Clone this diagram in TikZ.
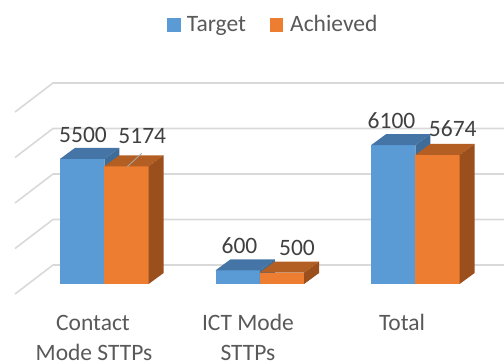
\documentclass[tikz,border=0pt]{standalone}
\usepackage{fontspec}
\setmainfont{Carlito}
\definecolor{bfront}{HTML}{5B9BD5}
\definecolor{btop}{HTML}{4575A6}
\definecolor{bside}{HTML}{3F6C98}
\definecolor{ofront}{HTML}{ED7D31}
\definecolor{otop}{HTML}{B35E22}
\definecolor{oside}{HTML}{9A4F1D}
\definecolor{gridc}{HTML}{D9D9D9}
\definecolor{valc}{HTML}{404040}
\definecolor{catc}{HTML}{595959}
\newcommand\barbox[5]{%
  \fill[#3] (#1,284) rectangle ({#1+44.3},{284-#2});
  \fill[#4] (#1,{284-#2}) -- ({#1+44.3},{284-#2}) -- ({#1+59.3},{273-#2}) -- ({#1+15},{273-#2}) -- cycle;
  \fill[#5] ({#1+44.3},284) -- ({#1+44.3},{284-#2}) -- ({#1+59.3},{273-#2}) -- ({#1+59.3},273) -- cycle;
}
\begin{document}
\begin{tikzpicture}[x=1pt,y=-1pt,
  gridline/.style={draw=gridc,line width=1.6pt},
  vallabel/.style={text=valc,inner sep=0pt,anchor=base,font=\fontsize{23.5}{28}\selectfont},
  catlabel/.style={text=catc,inner sep=0pt,anchor=base,font=\fontsize{23.5}{28}\selectfont},
  legtext/.style={text=catc,inner sep=0pt,anchor=base west,font=\fontsize{23.5}{28}\selectfont},
  leader/.style={draw=black!35,line width=0.9pt}]
\useasboundingbox (0,0) rectangle (504,360);
% grid
\foreach \i in {0,...,4}{
  \draw[gridline] (15,{294-45.5*\i}) -- (53,{265-45.5*\i}) -- (504,{265-45.5*\i});
}
% bars
\barbox{60}{125.1}{bfront}{btop}{bside}
\barbox{104.3}{117.7}{ofront}{otop}{oside}
\barbox{215.5}{13.65}{bfront}{btop}{bside}
\barbox{259.8}{11.4}{ofront}{otop}{oside}
\barbox{371}{138.8}{bfront}{btop}{bside}
\barbox{415.3}{129.1}{ofront}{otop}{oside}
% value labels
\node[vallabel] (v1) at (83,142) {5500};
\node[vallabel] (v2) at (142.3,143) {5174};
\node[vallabel] (v3) at (239.5,253) {600};
\node[vallabel] (v4) at (297,255) {500};
\node[vallabel] (v5) at (391.5,128.3) {6100};
\node[vallabel] (v6) at (452.8,136) {5674};
\coordinate (l1) at (141.7,153.3);
\coordinate (l2) at (127.3,166.7);
\draw[leader] (l1) -- (l2);
% category labels
\node[catlabel] (c1a) at (93,330.5) {Contact};
\node[catlabel] (c1b) at (94,360.5) {Mode STTPs};
\node[catlabel] (c2a) at (248,330.5) {ICT Mode};
\node[catlabel] (c2b) at (248,360.5) {STTPs};
\node[catlabel] (c3a) at (402,330.5) {Total};
% legend
\node[fill=bfront,minimum size=13.4pt,inner sep=0pt] (lb) at (174,25) {};
\node[legtext] (lt) at (186.7,31) {Target};
\node[fill=ofront,minimum size=13.4pt,inner sep=0pt] (lo) at (276.7,25) {};
\node[legtext] (la) at (290,31) {Achieved};
\end{tikzpicture}
\end{document}
